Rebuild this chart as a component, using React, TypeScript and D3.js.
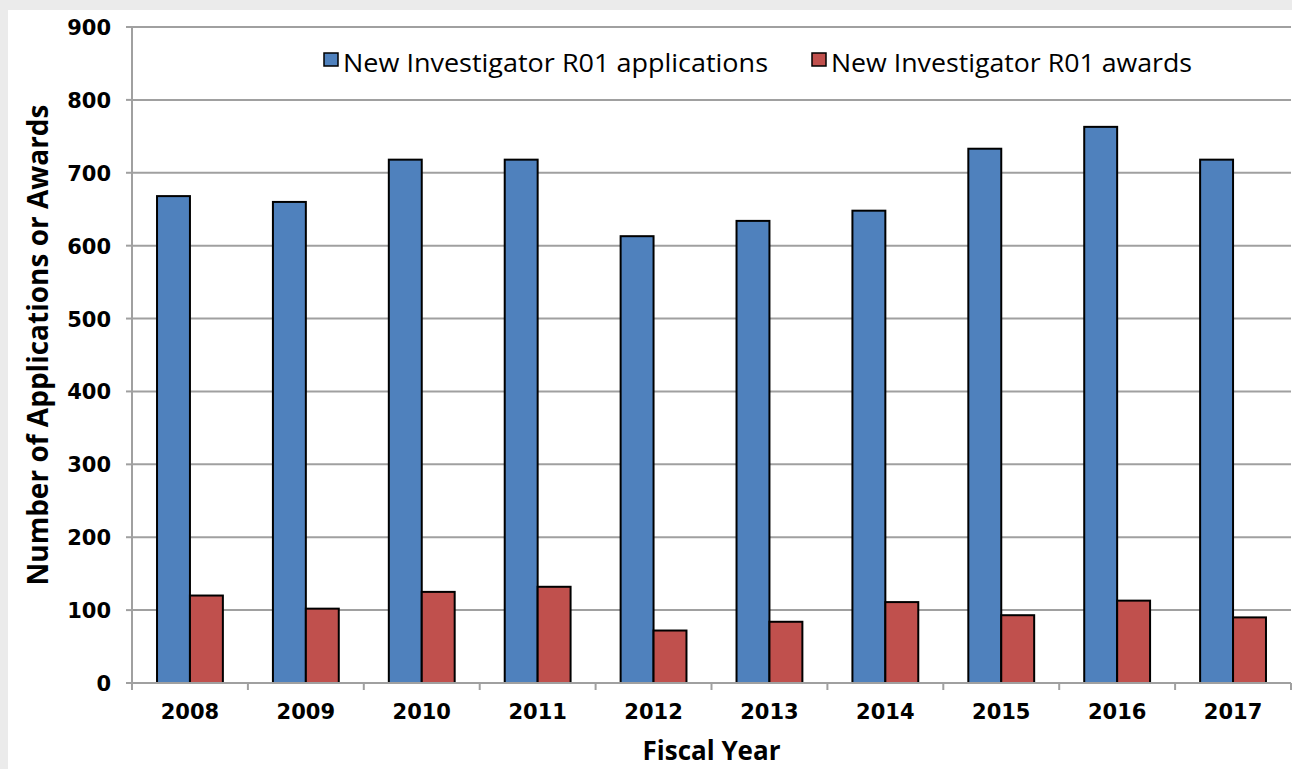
import React from "react";
import * as d3 from "d3";

const years = ["2008", "2009", "2010", "2011", "2012", "2013", "2014", "2015", "2016", "2017"];
const applications = [668, 660, 718, 718, 613, 634, 648, 733, 763, 718];
const awards = [120, 102, 125, 132, 72, 84, 111, 93, 113, 90];
const seriesNames = ["New Investigator R01 applications", "New Investigator R01 awards"];
const seriesColors = ["#4F81BD", "#C0504D"];
const yTicks = [0, 100, 200, 300, 400, 500, 600, 700, 800, 900];

const W = 1292;
const H = 769;
const left = 132;
const right = 1291;
const top = 27;
const bottom = 683;
const FONT = "'Open Sans', 'DejaVu Sans', sans-serif";
const NUMFONT = "'DejaVu Sans', 'Open Sans', sans-serif";

export default function App() {
  const x = d3.scaleBand<string>().domain(years).range([left, right]).paddingInner(0).paddingOuter(0);
  const inner = d3.scaleBand<string>().domain(["a", "b"]).range([0, x.bandwidth()]).paddingOuter(0.76).paddingInner(0);
  const y = d3.scaleLinear().domain([0, 900]).range([bottom, top]);
  const series = [applications, awards];
  const keys = ["a", "b"];
  const grid = "#A0A0A0";

  return (
    <svg width={W} height={H} style={{ position: "absolute", left: 0, top: 0, display: "block" }}>
      <rect x={0} y={0} width={W} height={H} fill="#EBEBEB" />
      <rect x={8} y={10} width={W - 8} height={H - 10} fill="#FFFFFF" />
      {yTicks.map((t) => (
        <g key={t}>
          {t > 0 && <line x1={left} x2={right} y1={y(t)} y2={y(t)} stroke={grid} strokeWidth={2} />}
          <line x1={left - 6} x2={left} y1={y(t)} y2={y(t)} stroke={grid} strokeWidth={2} />
          <text x={111} y={y(t) + 8} textAnchor="end" fontFamily={NUMFONT} fontWeight="bold" fontSize={21} fill="#000">
            {t}
          </text>
        </g>
      ))}
      <line x1={left} x2={left} y1={top} y2={bottom + 7} stroke={grid} strokeWidth={2} />
      {years.map((yr, i) => (
        <g key={yr}>
          {series.map((vals, s) => (
            <rect
              key={s}
              x={(x(yr) as number) + (inner(keys[s]) as number)}
              y={y(vals[i])}
              width={inner.bandwidth()}
              height={bottom - y(vals[i])}
              fill={seriesColors[s]}
              stroke="#000"
              strokeWidth={2}
            />
          ))}
        </g>
      ))}
      <line x1={left} x2={right} y1={bottom} y2={bottom} stroke={grid} strokeWidth={2} />
      {years.map((yr) => (
        <line key={yr} x1={(x(yr) as number) + x.bandwidth()} x2={(x(yr) as number) + x.bandwidth()} y1={bottom} y2={bottom + 7} stroke={grid} strokeWidth={2} />
      ))}
      {years.map((yr) => (
        <text key={yr} x={(x(yr) as number) + x.bandwidth() / 2} y={719} textAnchor="middle" fontFamily={NUMFONT} fontWeight="bold" fontSize={21} fill="#000">
          {yr}
        </text>
      ))}
      <text x={(left + right) / 2} y={760} textAnchor="middle" fontFamily={FONT} fontWeight="bold" fontSize={26} fill="#000">
        Fiscal Year
      </text>
      <text transform={`translate(48,345) rotate(-90)`} textAnchor="middle" fontFamily={FONT} fontWeight="bold" fontSize={28} fill="#000">
        Number of Applications  or Awards
      </text>
      {seriesNames.map((name, s) => {
        const lx = s === 0 ? 324 : 812;
        const len = s === 0 ? 425 : 361;
        return (
          <g key={name}>
            <rect x={lx} y={53} width={14} height={13} fill={seriesColors[s]} stroke="#000" strokeWidth={1.5} />
            <text x={lx + 19} y={72} fontFamily={FONT} fontSize={25} fill="#000" textLength={len} lengthAdjust="spacingAndGlyphs">
              {name}
            </text>
          </g>
        );
      })}
    </svg>
  );
}
